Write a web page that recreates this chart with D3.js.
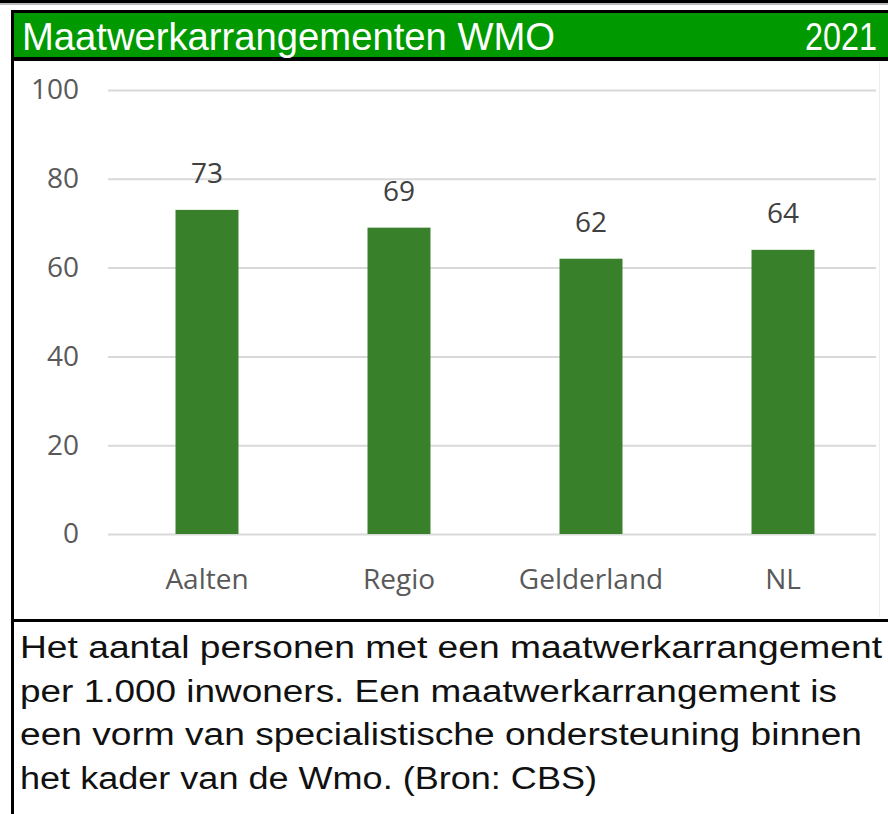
<!DOCTYPE html>
<html>
<head>
<meta charset="utf-8">
<script src="https://cdn.jsdelivr.net/npm/d3@7"></script>
<style>
  body { margin: 0; background: #fff; }
  svg { display: block; }
</style>
</head>
<body>
<svg id="chart" width="888" height="814"></svg>
<script>
// ─── data ─────────────────────────────────────────────────────────
const categories = ["Aalten", "Regio", "Gelderland", "NL"];
const values     = [73, 69, 62, 64];
const yTicks     = [0, 20, 40, 60, 80, 100];
const title      = "Maatwerkarrangementen WMO";
const year       = "2021";
const noteLines  = [
    "Het aantal personen met een maatwerkarrangement",
    "per 1.000 inwoners. Een maatwerkarrangement is",
    "een vorm van specialistische ondersteuning binnen",
    "het kader van de Wmo. (Bron: CBS)"
];

// ─── colours ──────────────────────────────────────────────────────
const barGreen   = "#38802a";
const titleGreen = "#009900";
const gridGrey   = "#d9d9d9";
const labelGrey  = "#595959";

const svg = d3.select("#chart");
const W = 888, H = 814;

// ─── frame ────────────────────────────────────────────────────────
svg.append("rect").attr("x", 0).attr("y", 0).attr("width", W).attr("height", 3).attr("fill", "#000");
svg.append("rect").attr("x", 0).attr("y", 3).attr("width", W).attr("height", 2).attr("fill", "#bbb");

// title band
svg.append("rect").attr("x", 11).attr("y", 10).attr("width", W - 11).attr("height", 51).attr("fill", "#000");
svg.append("rect").attr("x", 14).attr("y", 13).attr("width", W - 14).attr("height", 44).attr("fill", titleGreen);

// left border
svg.append("rect").attr("x", 11).attr("y", 10).attr("width", 3).attr("height", H - 10).attr("fill", "#000");
// separator above the note
svg.append("rect").attr("x", 11).attr("y", 619).attr("width", W - 11).attr("height", 3).attr("fill", "#000");
// faint chart-area right edge
svg.append("line").attr("x1", 879.5).attr("x2", 879.5).attr("y1", 62).attr("y2", 617)
    .attr("stroke", "#eeeeee").attr("stroke-width", 1);

svg.append("text")
    .attr("x", 22).attr("y", 50)
    .attr("textLength", 533).attr("lengthAdjust", "spacingAndGlyphs")
    .style("font-family", "'Liberation Sans', Arial, sans-serif")
    .style("font-size", "38px")
    .style("fill", "#fff")
    .text(title);

svg.append("text")
    .attr("x", 877).attr("y", 50)
    .attr("text-anchor", "end")
    .attr("textLength", 72).attr("lengthAdjust", "spacingAndGlyphs")
    .style("font-family", "'Liberation Sans', Arial, sans-serif")
    .style("font-size", "38px")
    .style("fill", "#fff")
    .text(year);

// ─── chart ────────────────────────────────────────────────────────
const x = d3.scaleBand()
    .domain(categories)
    .range([111, 879])
    .paddingInner(0.672)
    .paddingOuter(0.336);

const y = d3.scaleLinear()
    .domain([0, 100])
    .range([534, 90]);

// gridlines
svg.append("g")
    .attr("transform", "translate(108,0)")
    .call(d3.axisLeft(y).tickValues(yTicks).tickSize(-768).tickFormat(""))
    .call(g => g.select(".domain").remove())
    .call(g => g.selectAll("line").attr("stroke", gridGrey).attr("stroke-width", 2));

// y tick labels
svg.append("g")
    .attr("transform", "translate(79,0)")
    .call(d3.axisLeft(y).tickValues(yTicks).tickSize(0).tickPadding(0))
    .call(g => g.select(".domain").remove())
    .call(g => g.selectAll("text")
        .style("font-family", "'Open Sans', sans-serif")
        .style("font-size", "28px")
        .style("fill", labelGrey));

// bars
const data = categories.map((c, i) => ({ cat: c, value: values[i] }));

svg.append("g")
    .selectAll("rect")
    .data(data)
    .join("rect")
    .attr("x", d => x(d.cat))
    .attr("y", d => y(d.value))
    .attr("width", x.bandwidth())
    .attr("height", d => y(0) - y(d.value))
    .attr("fill", barGreen);

// value labels
svg.append("g")
    .selectAll("text")
    .data(data)
    .join("text")
    .attr("x", d => x(d.cat) + x.bandwidth() / 2)
    .attr("y", d => y(d.value) - 27)
    .attr("text-anchor", "middle")
    .style("font-family", "'Open Sans', sans-serif")
    .style("font-size", "28px")
    .style("fill", "#404040")
    .text(d => d.value);

// category labels
svg.append("g")
    .attr("transform", "translate(0,534)")
    .call(d3.axisBottom(x).tickSize(0).tickPadding(35))
    .call(g => g.select(".domain").remove())
    .call(g => g.selectAll("text")
        .style("font-family", "'Open Sans', sans-serif")
        .style("font-size", "28px")
        .style("fill", labelGrey));

// ─── note ─────────────────────────────────────────────────────────
const noteWidths = [862, 817, 842, 577];

svg.append("g")
    .selectAll("text")
    .data(noteLines)
    .join("text")
    .attr("x", 20)
    .attr("y", (d, i) => 658 + i * 43.5)
    .attr("textLength", (d, i) => noteWidths[i])
    .attr("lengthAdjust", "spacingAndGlyphs")
    .style("font-family", "'Liberation Sans', Arial, sans-serif")
    .style("font-size", "31px")
    .style("fill", "#111")
    .text(d => d);
</script>
</body>
</html>
